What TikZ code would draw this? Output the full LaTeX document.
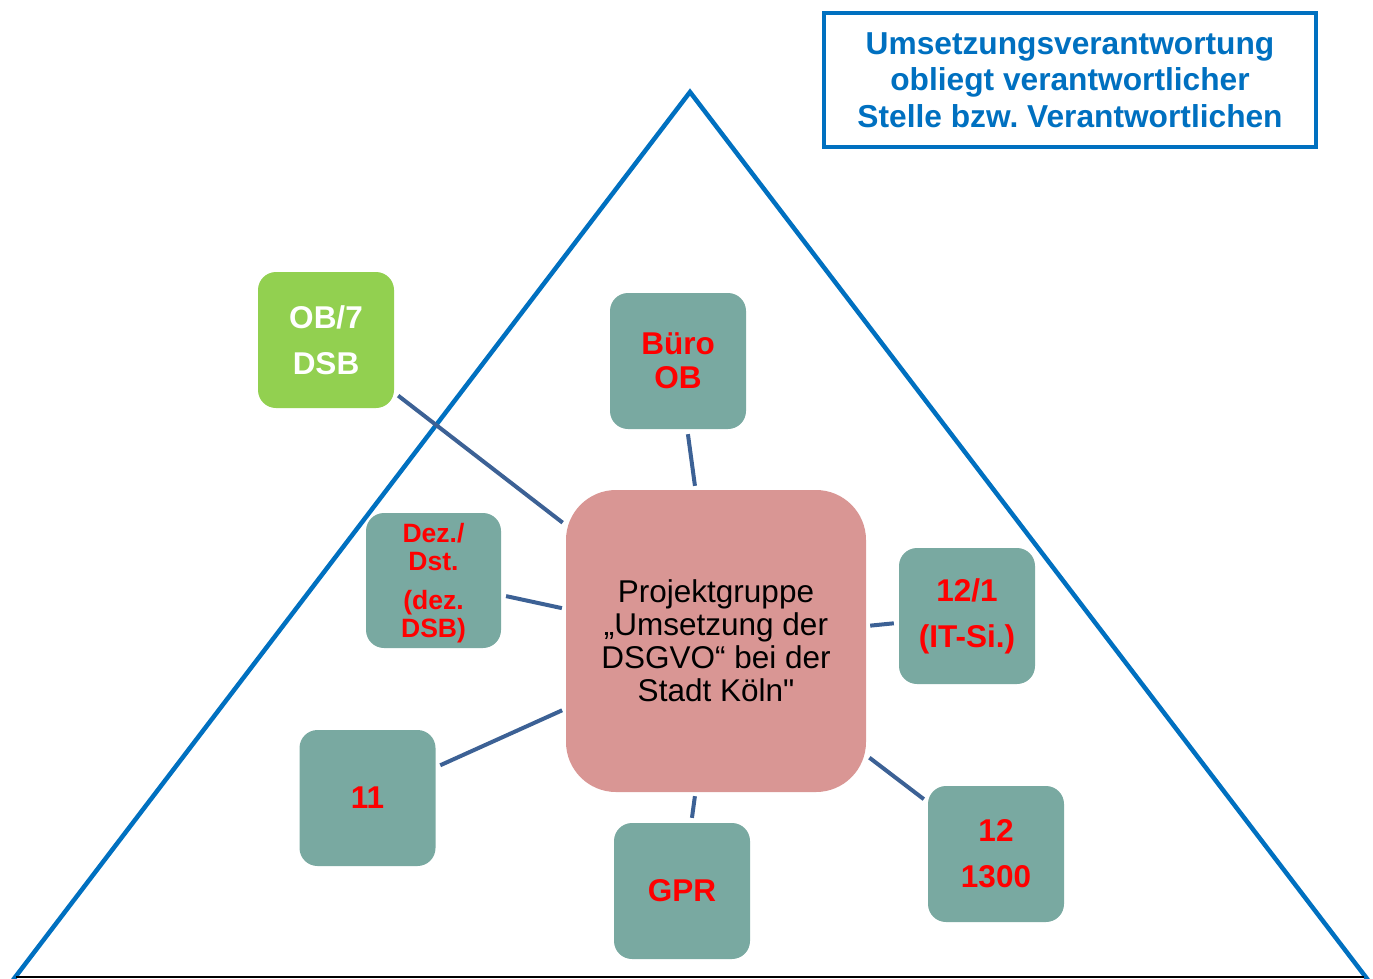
\documentclass[tikz,border=0pt]{standalone}
\usepackage{fontspec}
\setmainfont{Liberation Sans}
\newfontfamily\plainfont{Liberation Sans}
\definecolor{triblue}{HTML}{0070C0}
\definecolor{conblue}{HTML}{3C6195}
\definecolor{tealbox}{HTML}{79A9A1}
\definecolor{greenbox}{HTML}{92D050}
\definecolor{pinkbox}{HTML}{D99694}
\definecolor{baseline}{HTML}{9DC3E6}
\definecolor{redtext}{HTML}{FF0000}
\frenchspacing
\begin{document}
\begin{tikzpicture}[x=1pt,y=-1pt,
  smallbox/.style={rectangle, rounded corners=18pt, minimum width=136pt, minimum height=136pt, inner sep=0pt, align=center, fill=tealbox, text=redtext, font=\fontsize{31.5}{46}\selectfont\bfseries},
  conn/.style={draw=conblue, line width=4pt, shorten <=5pt, shorten >=4pt}]
\useasboundingbox (0,0) rectangle (1373,978);
% triangle
\draw[triblue, line width=4.5pt, line join=miter] (13,980) -- (690,92) -- (1368,980);
\draw[baseline, line width=1.5pt] (16,977) -- (1364,977);
% title box
\node[draw=triblue, line width=4pt, minimum width=492pt, minimum height=134pt, inner sep=0pt, align=center, text=triblue, font=\fontsize{31.7}{36.5}\selectfont\bfseries] (title) at (1070,80) {Umsetzungsverantwortung\\obliegt verantwortlicher\\Stelle bzw. Verantwortlichen};
% nodes
\node[rectangle, rounded corners=50pt, minimum width=300pt, minimum height=302pt, inner sep=0pt, align=center, fill=pinkbox, font=\plainfont\fontsize{31.5}{33}\selectfont] (pg) at (716,641) {Projektgruppe\\„Umsetzung der\\DSGVO“ bei der\\Stadt Köln"};
\node[smallbox, fill=greenbox, text=white] (ob7) at (326,340) {OB/7\\DSB};
\node[smallbox, font=\fontsize{31.5}{34}\selectfont\bfseries] (buero) at (678,361) {Büro\\OB};
\node[smallbox, minimum width=135pt, minimum height=135pt] (dez) at (433.5,580.5) {};
\node[align=center, inner sep=0pt, text=redtext, font=\fontsize{26.5}{28}\selectfont\bfseries] (dezlabel) at (433.5,583.5) {Dez./\\Dst.\\[11pt](dez.\\DSB)};
\node[smallbox] (it) at (967,616) {12/1\\(IT-Si.)};
\node[smallbox] (elf) at (367.5,798) {11};
\node[smallbox] (gpr) at (682,891) {GPR};
\node[smallbox] (zw) at (996,854) {12\\1300};
% connectors
\draw[conn] (ob7) -- (pg);
\draw[conn] (buero) -- (pg);
\draw[conn] (dez) -- (pg);
\draw[conn] (it) -- (pg);
\draw[conn] (elf) -- (pg);
\draw[conn] (gpr) -- (pg);
\draw[conn] (zw) -- (pg);
\end{tikzpicture}
\end{document}
